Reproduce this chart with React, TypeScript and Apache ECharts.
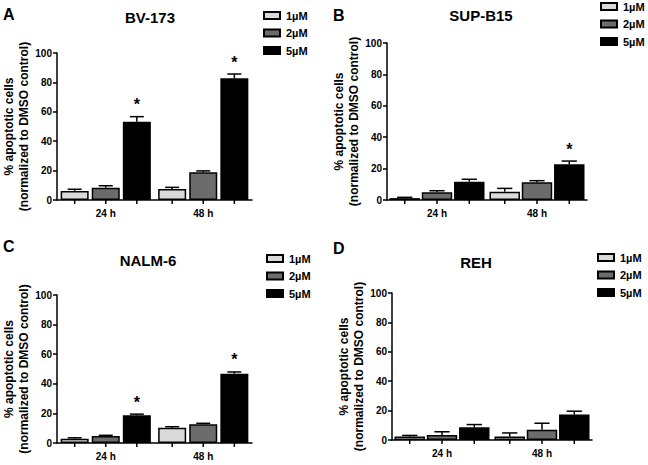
import React, { useEffect, useRef } from 'react';
import * as echarts from 'echarts';

// ---------- data ----------
const categories = ['24 h', '48 h'];
const doses = ['1µM', '2µM', '5µM'];
const yTickMax = 100;
const yTickStep = 20;
const yAxisTitle = '% apoptotic cells\n(normalized to DMSO control)';

// BV-173
const bv173Mean1 = [6.2, 7.5];
const bv173Mean2 = [8.4, 18.8];
const bv173Mean5 = [53.3, 82.8];
const bv173Sem1 = [1.1, 1.1];
const bv173Sem2 = [1.3, 1.0];
const bv173Sem5 = [3.4, 2.9];
const bv173Star5 = [1, 1];

// SUP-B15
const supb15Mean1 = [1.2, 5.3];
const supb15Mean2 = [4.9, 11.3];
const supb15Mean5 = [11.7, 22.7];
const supb15Sem1 = [0.5, 2.1];
const supb15Sem2 = [1.0, 1.0];
const supb15Sem5 = [1.5, 2.1];
const supb15Star5 = [0, 1];

// NALM-6
const nalm6Mean1 = [2.9, 10.3];
const nalm6Mean2 = [4.7, 12.6];
const nalm6Mean5 = [18.7, 46.8];
const nalm6Sem1 = [0.6, 0.7];
const nalm6Sem2 = [0.5, 0.7];
const nalm6Sem5 = [0.8, 1.2];
const nalm6Star5 = [1, 1];

// REH
const rehMean1 = [2.3, 2.3];
const rehMean2 = [3.4, 7.0];
const rehMean5 = [8.6, 17.3];
const rehSem1 = [0.8, 2.5];
const rehSem2 = [2.2, 4.4];
const rehSem5 = [1.9, 2.3];
const rehStar5 = [0, 0];

const noStars = [0, 0];

const panelsData = [
  { letter: 'A', title: 'BV-173', means: [bv173Mean1, bv173Mean2, bv173Mean5], sems: [bv173Sem1, bv173Sem2, bv173Sem5], stars: [noStars, noStars, bv173Star5] },
  { letter: 'B', title: 'SUP-B15', means: [supb15Mean1, supb15Mean2, supb15Mean5], sems: [supb15Sem1, supb15Sem2, supb15Sem5], stars: [noStars, noStars, supb15Star5] },
  { letter: 'C', title: 'NALM-6', means: [nalm6Mean1, nalm6Mean2, nalm6Mean5], sems: [nalm6Sem1, nalm6Sem2, nalm6Sem5], stars: [noStars, noStars, nalm6Star5] },
  { letter: 'D', title: 'REH', means: [rehMean1, rehMean2, rehMean5], sems: [rehSem1, rehSem2, rehSem5], stars: [noStars, noStars, rehStar5] },
];

// ---------- layout / style ----------
const doseColors = ['#dadada', '#6c6c6c', '#000000'];
const FONT = '"Liberation Sans", Arial, Helvetica, sans-serif';

const layouts = [
  { grid: { left: 57, top: 53, width: 195, height: 147 }, catGap: 0.075, barGap: 0.11, nameGap: 19, title: [150, 17], letter: [3, 14], legend: [263, 10] },
  { grid: { left: 387, top: 43, width: 200, height: 157 }, catGap: 0.05, barGap: 0.06, nameGap: 16, title: [481, 15], letter: [333, 15], legend: [600, 1] },
  { grid: { left: 57, top: 295, width: 195, height: 148 }, catGap: 0.075, barGap: 0.11, nameGap: 19, title: [148, 260], letter: [3, 246], legend: [266, 253] },
  { grid: { left: 392, top: 293, width: 200, height: 147 }, catGap: 0.05, barGap: 0.06, nameGap: 19, title: [476, 262], letter: [333, 248], legend: [597, 252] },
];

function buildOption() {
  const grid: any[] = [];
  const xAxis: any[] = [];
  const yAxis: any[] = [];
  const series: any[] = [];
  const legend: any[] = [];
  const graphic: any[] = [];

  panelsData.forEach((p, pi) => {
    const L = layouts[pi];
    grid.push({ ...L.grid, containLabel: false });
    xAxis.push({
      type: 'category',
      gridIndex: pi,
      data: categories,
      axisLine: { lineStyle: { color: '#000', width: 1.5 } },
      axisTick: { show: false },
      axisLabel: { fontSize: 10, fontWeight: 'bold', color: '#000', fontFamily: FONT, margin: 8 },
    });
    yAxis.push({
      type: 'value',
      gridIndex: pi,
      min: 0,
      max: yTickMax,
      interval: yTickStep,
      splitLine: { show: false },
      axisLine: { show: true, lineStyle: { color: '#000', width: 1.5 } },
      axisTick: { show: true, length: 4, lineStyle: { color: '#000', width: 1.5 } },
      axisLabel: { fontSize: 10, fontWeight: 'bold', color: '#000', fontFamily: FONT, margin: 5 },
      name: yAxisTitle,
      nameLocation: 'middle',
      nameRotate: 90,
      nameGap: L.nameGap,
      nameTextStyle: { fontSize: 12, fontWeight: 'bold', color: '#000', fontFamily: FONT, lineHeight: 15 },
    });
    doses.forEach((d, di) => {
      series.push({
        type: 'bar',
        name: d,
        xAxisIndex: pi,
        yAxisIndex: pi,
        data: p.means[di],
        barCategoryGap: L.catGap * 100 + '%',
        barGap: L.barGap * 100 + '%',
        itemStyle: { color: doseColors[di], borderColor: '#000', borderWidth: 1.5 },
        emphasis: { disabled: true },
      });
    });
    const errData: number[][] = [];
    doses.forEach((_, di) => {
      categories.forEach((_, ci) => {
        errData.push([ci, di, p.means[di][ci], p.sems[di][ci], p.stars[di][ci]]);
      });
    });
    const catGap = L.catGap;
    const barGap = L.barGap;
    series.push({
      type: 'custom',
      xAxisIndex: pi,
      yAxisIndex: pi,
      clip: false,
      z: 5,
      silent: true,
      encode: { x: 0, y: 2 },
      data: errData,
      renderItem: (params: any, api: any) => {
        const ci = api.value(0);
        const di = api.value(1);
        const v = api.value(2);
        const e = api.value(3);
        const star = api.value(4);
        const base = api.coord([ci, 0]);
        const top = api.coord([ci, v]);
        const errTop = api.coord([ci, v + e]);
        const band = api.size([1, 0])[0];
        const usable = band * (1 - catGap);
        const bw = usable / (3 + 2 * barGap);
        const x = base[0] - usable / 2 + di * bw * (1 + barGap) + bw / 2;
        const capHalf = bw / 4;
        const ls = { stroke: '#000', lineWidth: 1.5 };
        const children: any[] = [
          { type: 'line', shape: { x1: x, y1: top[1], x2: x, y2: errTop[1] }, style: ls },
          { type: 'line', shape: { x1: x - capHalf, y1: errTop[1], x2: x + capHalf, y2: errTop[1] }, style: ls },
          { type: 'line', shape: { x1: x, y1: base[1], x2: x, y2: base[1] + 4 }, style: ls },
        ];
        if (star) {
          children.push({
            type: 'text',
            x,
            y: errTop[1] - 12,
            style: {
              text: '*',
              fill: '#000',
              fontSize: 16,
              fontWeight: 'bold',
              fontFamily: FONT,
              align: 'center',
              verticalAlign: 'middle',
            },
          });
        }
        return { type: 'group', children };
      },
    });
    legend.push({
      orient: 'vertical',
      left: L.legend[0],
      top: L.legend[1],
      data: doses,
      itemWidth: 16,
      itemHeight: 7,
      itemGap: 6.5,
      padding: 0,
      icon: 'rect',
      textStyle: { fontSize: 11, fontWeight: 'bold', color: '#000', fontFamily: FONT, padding: [0, 0, 0, 1] },
      selectedMode: false,
    });
    graphic.push({
      type: 'text',
      x: L.title[0],
      y: L.title[1],
      style: {
        text: p.title,
        fill: '#000',
        fontSize: 15,
        fontWeight: 'bold',
        fontFamily: FONT,
        align: 'center',
        verticalAlign: 'middle',
        textAlign: 'center',
        textVerticalAlign: 'middle',
      },
    });
    graphic.push({
      type: 'text',
      x: L.letter[0],
      y: L.letter[1],
      style: {
        text: p.letter,
        fill: '#000',
        fontSize: 16,
        fontWeight: 'bold',
        fontFamily: FONT,
        align: 'left',
        verticalAlign: 'middle',
        textAlign: 'left',
        textVerticalAlign: 'middle',
      },
    });
  });

  return {
    animation: false,
    backgroundColor: '#fff',
    textStyle: { fontFamily: FONT },
    grid,
    xAxis,
    yAxis,
    series,
    legend,
    graphic,
  };
}

export default function App() {
  const ref = useRef<HTMLDivElement>(null);
  useEffect(() => {
    if (!ref.current) return;
    const chart = echarts.init(ref.current, undefined, { renderer: 'svg' });
    chart.setOption(buildOption() as any);
    return () => chart.dispose();
  }, []);
  return <div ref={ref} style={{ position: 'absolute', left: 0, top: 0, width: 648, height: 465 }} />;
}
